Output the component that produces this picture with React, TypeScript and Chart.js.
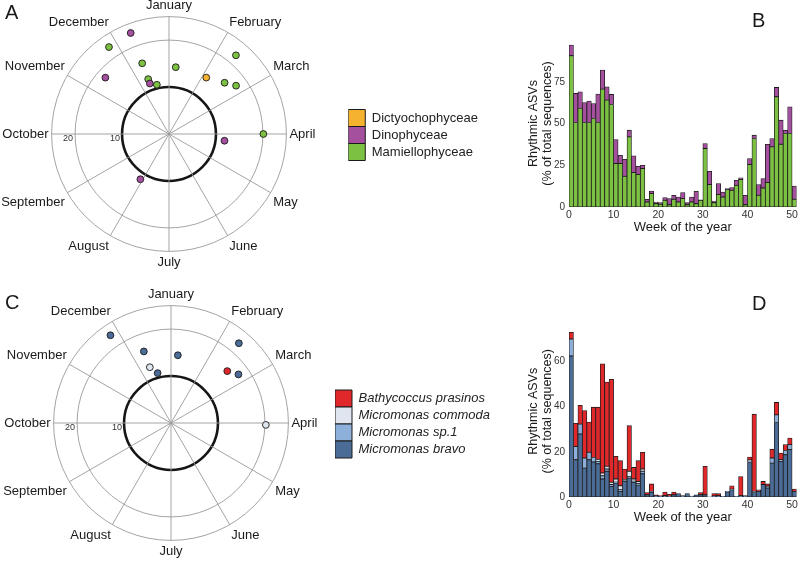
import React, { useEffect, useRef } from 'react';
import { Chart, registerables } from 'chart.js';

Chart.register(...registerables);

const FONT = '"Liberation Sans", Arial, Helvetica, sans-serif';

// ---------- polar (radar) panels ----------
const months = ['January', 'February', 'March', 'April', 'May', 'June', 'July', 'August', 'September', 'October', 'November', 'December'];
const weeksPerYear = 52;
const stepsPerWeek = 6;
const radialMax = 25;
const radialStep = 10;
const ringTickLabels = [10, 20];
const thresholdRing = 10;

// Panel A: peak week (phase) and amplitude of rhythmic ASVs
const dictyPhaseA = [4.9];
const dictyAmpA = [14.4];
const dinoPhaseA = [49, 45, 49, 14, 30.7];
const dinoAmpA = [23.0, 18.1, 11.5, 11.9, 11.4];
const mamPhaseA = [47, 49, 49, 50, 0.9, 5.8, 6.8, 7.9, 13];
const mamAmpA = [22.5, 16.1, 12.5, 10.8, 14.3, 22.0, 16.1, 17.6, 20.1];

// Panel C
const bathyPhaseC = [6.8];
const bathyAmpC = [16.3];
const commodaPhaseC = [49, 13.1];
const commodaAmpC = [12.7, 20.2];
const sp1PhaseC: number[] = [];
const sp1AmpC: number[] = [];
const bravoPhaseC = [47, 49, 49.9, 0.8, 5.8, 7.8];
const bravoAmpC = [22.7, 16.3, 11.0, 14.5, 22.3, 17.7];

// ---------- bar panels ----------
const weeks = [0, 1, 2, 3, 4, 5, 6, 7, 8, 9, 10, 11, 12, 13, 14, 15, 16, 17, 18, 19, 20, 21, 22, 23, 24, 25, 26, 27, 28, 29, 30, 31, 32, 33, 34, 35, 36, 37, 38, 39, 40, 41, 42, 43, 44, 45, 46, 47, 48, 49, 50];
const xTicks = [0, 10, 20, 30, 40, 50];
const yTicksB = [0, 25, 50, 75];
const yTicksD = [0, 20, 40, 60];

const mamB = [90.6, 50.6, 59, 50.6, 50.6, 53, 50.6, 70.6, 64, 61.4, 26, 26, 18.4, 42, 20.6, 19.4, 23, 3, 8, 2, 1.6, 4, 1.4, 4.6, 3, 5, 1.4, 3, 2, 4, 35, 13.4, 2.6, 7.4, 6, 10.4, 10, 13, 16.4, 1.4, 25.4, 41, 7, 11.4, 14.6, 36, 66, 37.6, 44, 44, 4.6];
const dinoB = [6.4, 17.4, 10, 12, 12.8, 9, 17, 11.4, 8, 6, 14.4, 5, 10.2, 4, 10, 5, 2, 1.6, 1.6, 1, 1, 1.6, 3.6, 2.4, 3, 3.6, 1.2, 3, 7.4, 0.3, 3, 8, 1, 6.6, 3, 0.6, 1.6, 3, 1, 5.6, 3.6, 2, 6.4, 5.6, 23, 5, 5.6, 14.4, 2, 16, 8];

const bravoD = [62.5, 16.5, 27.9, 12.8, 16.5, 15.5, 14.7, 8, 11.4, 4.7, 6.2, 2.5, 7, 8.4, 6.5, 5.3, 10.3, 1, 2.1, 0.6, 0.4, 0.7, 0.4, 1, 1.5, 0.6, 1.5, 0.4, 1, 1, 1, 0.1, 0.5, 0.6, 0.3, 2.3, 3.2, 0.3, 0.6, 0.6, 15.3, 2, 2.5, 5.5, 4, 15, 33, 15.8, 18.7, 21, 2.5];
const sp1D = [7.5, 5.9, 4.4, 4.5, 3.3, 2, 1.1, 1.4, 1, 0.8, 0.4, 0.7, 0.3, 0.7, 0.5, 0.6, 1.1, 0, 0.4, 0, 0, 0, 0, 0, 0, 0, 0, 0, 0, 0, 0, 0, 0, 0, 0, 0.2, 0.3, 0, 0, 0, 0.7, 0.5, 0, 0, 0.8, 2.3, 3.4, 0.7, 1.9, 2.2, 0];
const commodaD = [0, 0, 0, 0, 0, 0, 0.8, 1.2, 1.2, 1, 1.4, 1.8, 0.5, 2.3, 1, 1, 1, 0, 0, 0, 0, 0, 0, 0, 0, 0, 0, 0, 0, 0, 0, 0, 0, 0, 0, 0, 0, 0, 0, 0, 0.4, 0, 0, 0, 0, 0, 0, 0, 0, 0, 0];
const bathyD = [3, 10.3, 8.3, 21, 13.4, 22.3, 23.2, 48.4, 37.3, 45.7, 10, 11.1, 4.6, 20.2, 5.1, 9.2, 7.4, 1, 3.3, 0.4, 0.2, 1.5, 0.8, 1.2, 0, 0, 0, 0, 0, 1, 12.6, 0, 1, 0.9, 0, 0, 1.5, 0, 8.5, 0, 1.3, 34.2, 0.7, 1.4, 1, 3.9, 5.5, 3, 2.6, 2.9, 1];

const COLORS = {
  dicty: '#f5b22e',
  dino: '#a4509e',
  mam: '#7dc143',
  bathy: '#e0282b',
  commoda: '#dfe6f0',
  sp1: '#8db0da',
  bravo: '#4b6c96',
};

type Cls = { name: string; color: string; phase: number[]; amp: number[] };

const N = weeksPerYear * stepsPerWeek;
const spokeEvery = N / months.length;
const radarLabels = Array.from({ length: N }, (_, i) => (i % spokeEvery === 0 ? months[i / spokeEvery] : ''));

function radarDatasets(classes: Cls[]) {
  const out: any[] = [];
  classes.forEach((c) => {
    const layers: (number | null)[][] = [];
    c.phase.forEach((p, k) => {
      const idx = Math.round(p * stepsPerWeek) % N;
      let layer = layers.find((l) => l[idx] === null);
      if (!layer) {
        layer = new Array(N).fill(null);
        layers.push(layer);
      }
      layer[idx] = c.amp[k];
    });
    layers.forEach((data) =>
      out.push({
        label: c.name,
        data,
        showLine: false,
        fill: false,
        borderWidth: 0,
        backgroundColor: c.color,
        borderColor: c.color,
        pointRadius: 3.4,
        pointBorderWidth: 0.9,
        pointBackgroundColor: c.color,
        pointBorderColor: '#1a1a1a',
      })
    );
  });
  return out;
}

const ringLabelPlugin = {
  id: 'ringLabels',
  beforeDatasetsDraw(chart: any) {
    const s = chart.scales.r;
    const ctx = chart.ctx;
    ctx.save();
    ctx.font = `9px ${FONT}`;
    ctx.fillStyle = '#333';
    ctx.textAlign = 'right';
    ctx.textBaseline = 'middle';
    ringTickLabels.forEach((v) => {
      const d = s.getDistanceFromCenterForValue(v);
      ctx.fillText(String(v), s.xCenter - d - 2, s.yCenter + 5);
    });
    ctx.restore();
  },
};

function RadarPanel(props: { classes: Cls[]; italic: boolean; left: number; top: number; width: number; height: number }) {
  const ref = useRef<HTMLCanvasElement>(null);
  useEffect(() => {
    const chart = new Chart(ref.current as HTMLCanvasElement, {
      type: 'radar',
      data: { labels: radarLabels, datasets: radarDatasets(props.classes) },
      plugins: [ringLabelPlugin],
      options: {
        animation: false,
        responsive: false,
        events: [],
        layout: { padding: 0 },
        scales: {
          r: {
            min: 0,
            max: radialMax,
            startAngle: 0,
            ticks: { display: false, stepSize: radialStep },
            grid: {
              circular: true,
              color: (c: any) => (c.tick && c.tick.value === thresholdRing ? '#161616' : '#9a9a9a'),
              lineWidth: (c: any) => (c.tick && c.tick.value === thresholdRing ? 2.6 : 0.9),
            },
            angleLines: {
              color: (c: any) => (c.index % spokeEvery === 0 ? '#9a9a9a' : 'rgba(0,0,0,0)'),
              lineWidth: (c: any) => (c.index % spokeEvery === 0 ? 0.9 : 0),
            },
            pointLabels: { font: { family: FONT, size: 13 }, color: '#1a1a1a', padding: 3 },
          },
        },
        plugins: {
          tooltip: { enabled: false },
          legend: {
            position: 'right',
            onClick: () => {},
            labels: {
              boxWidth: 17,
              boxHeight: 17,
              padding: 0,
              color: '#222',
              font: { family: FONT, size: 13, style: props.italic ? 'italic' : 'normal' },
              generateLabels: () =>
                props.classes.map((c, i) => ({
                  text: c.name,
                  fillStyle: c.color,
                  strokeStyle: '#1a1a1a',
                  lineWidth: 1,
                  hidden: false,
                  fontColor: '#222',
                  datasetIndex: i,
                })),
            },
          },
        },
      } as any,
    });
    return () => chart.destroy();
  }, []);
  return (
    <canvas
      ref={ref}
      width={props.width}
      height={props.height}
      style={{ position: 'absolute', left: props.left, top: props.top, width: props.width, height: props.height }}
    />
  );
}

function BarPanel(props: {
  series: { name: string; color: string; values: number[] }[];
  yMax: number;
  yTicks: number[];
  left: number;
  top: number;
  width: number;
  height: number;
  padTop: number;
}) {
  const ref = useRef<HTMLCanvasElement>(null);
  useEffect(() => {
    const chart = new Chart(ref.current as HTMLCanvasElement, {
      type: 'bar',
      data: {
        datasets: props.series.map((s) => ({
          label: s.name,
          data: weeks.map((w, i) => ({ x: w + 0.5, y: s.values[i] })),
          backgroundColor: s.color,
          borderColor: '#1c1c1c',
          borderWidth: 0.8,
          borderSkipped: false,
          barPercentage: 1,
          categoryPercentage: 1,
        })),
      },
      options: {
        animation: false,
        responsive: false,
        events: [],
        layout: { padding: { top: props.padTop, right: 2.5, left: 0, bottom: 0 } },
        plugins: { legend: { display: false }, tooltip: { enabled: false } },
        scales: {
          x: {
            type: 'linear',
            stacked: true,
            offset: false,
            bounds: 'data',
            min: 0,
            max: weeks.length,
            grid: { display: false, drawTicks: false, offset: false },
            border: { display: false },
            afterBuildTicks: (ax: any) => {
              ax.ticks = xTicks.map((v) => ({ value: v }));
            },
            afterFit: (ax: any) => {
              ax.height = 28;
            },
            ticks: { font: { family: FONT, size: 10.5 }, color: '#333', padding: 2, maxRotation: 0 },
            title: {
              display: true,
              text: 'Week of the year',
              font: { family: FONT, size: 13, lineHeight: 1.1 },
              color: '#1a1a1a',
              padding: 0,
            },
          },
          y: {
            stacked: true,
            min: 0,
            max: props.yMax,
            grid: { display: false, drawTicks: false },
            border: { display: false },
            afterBuildTicks: (ax: any) => {
              ax.ticks = props.yTicks.map((v) => ({ value: v }));
            },
            afterFit: (ax: any) => {
              ax.width = 49;
            },
            ticks: { font: { family: FONT, size: 10 }, color: '#333', padding: 4 },
            title: {
              display: true,
              text: ['Rhythmic ASVs', '(% of total sequences)'],
              font: { family: FONT, size: 12.5, lineHeight: 1.1 },
              color: '#1a1a1a',
              padding: { top: 7, bottom: 0 },
            },
          },
        },
      } as any,
    });
    return () => chart.destroy();
  }, []);
  return (
    <canvas
      ref={ref}
      width={props.width}
      height={props.height}
      style={{ position: 'absolute', left: props.left, top: props.top, width: props.width, height: props.height }}
    />
  );
}

const letterStyle = (left: number, top: number): React.CSSProperties => ({
  position: 'absolute',
  left,
  top,
  fontFamily: FONT,
  fontSize: 20,
  lineHeight: '20px',
  color: '#1a1a1a',
});

export default function App() {
  const classesA: Cls[] = [
    { name: 'Dictyochophyceae', color: COLORS.dicty, phase: dictyPhaseA, amp: dictyAmpA },
    { name: 'Dinophyceae', color: COLORS.dino, phase: dinoPhaseA, amp: dinoAmpA },
    { name: 'Mamiellophyceae', color: COLORS.mam, phase: mamPhaseA, amp: mamAmpA },
  ];
  const classesC: Cls[] = [
    { name: 'Bathycoccus prasinos', color: COLORS.bathy, phase: bathyPhaseC, amp: bathyAmpC },
    { name: 'Micromonas commoda', color: COLORS.commoda, phase: commodaPhaseC, amp: commodaAmpC },
    { name: 'Micromonas sp.1', color: COLORS.sp1, phase: sp1PhaseC, amp: sp1AmpC },
    { name: 'Micromonas bravo', color: COLORS.bravo, phase: bravoPhaseC, amp: bravoAmpC },
  ];
  return (
    <div style={{ position: 'absolute', left: 0, top: 0, width: 800, height: 562, overflow: 'hidden', background: '#fff' }}>
      <RadarPanel classes={classesA} italic={false} left={-13} top={-1} width={501} height={272} />
      <RadarPanel classes={classesC} italic={true} left={-7} top={288} width={507} height={272} />
      <BarPanel
        series={[
          { name: 'Mamiellophyceae', color: COLORS.mam, values: mamB },
          { name: 'Dinophyceae', color: COLORS.dino, values: dinoB },
        ]}
        yMax={100}
        yTicks={yTicksB}
        left={520}
        top={30}
        width={280}
        height={205}
        padTop={10}
      />
      <BarPanel
        series={[
          { name: 'Micromonas bravo', color: COLORS.bravo, values: bravoD },
          { name: 'Micromonas sp.1', color: COLORS.sp1, values: sp1D },
          { name: 'Micromonas commoda', color: COLORS.commoda, values: commodaD },
          { name: 'Bathycoccus prasinos', color: COLORS.bathy, values: bathyD },
        ]}
        yMax={76}
        yTicks={yTicksD}
        left={520}
        top={315}
        width={280}
        height={210}
        padTop={10.5}
      />
      <div style={letterStyle(5, 2)}>A</div>
      <div style={letterStyle(752, 10)}>B</div>
      <div style={letterStyle(5, 292)}>C</div>
      <div style={letterStyle(752, 293)}>D</div>
    </div>
  );
}
